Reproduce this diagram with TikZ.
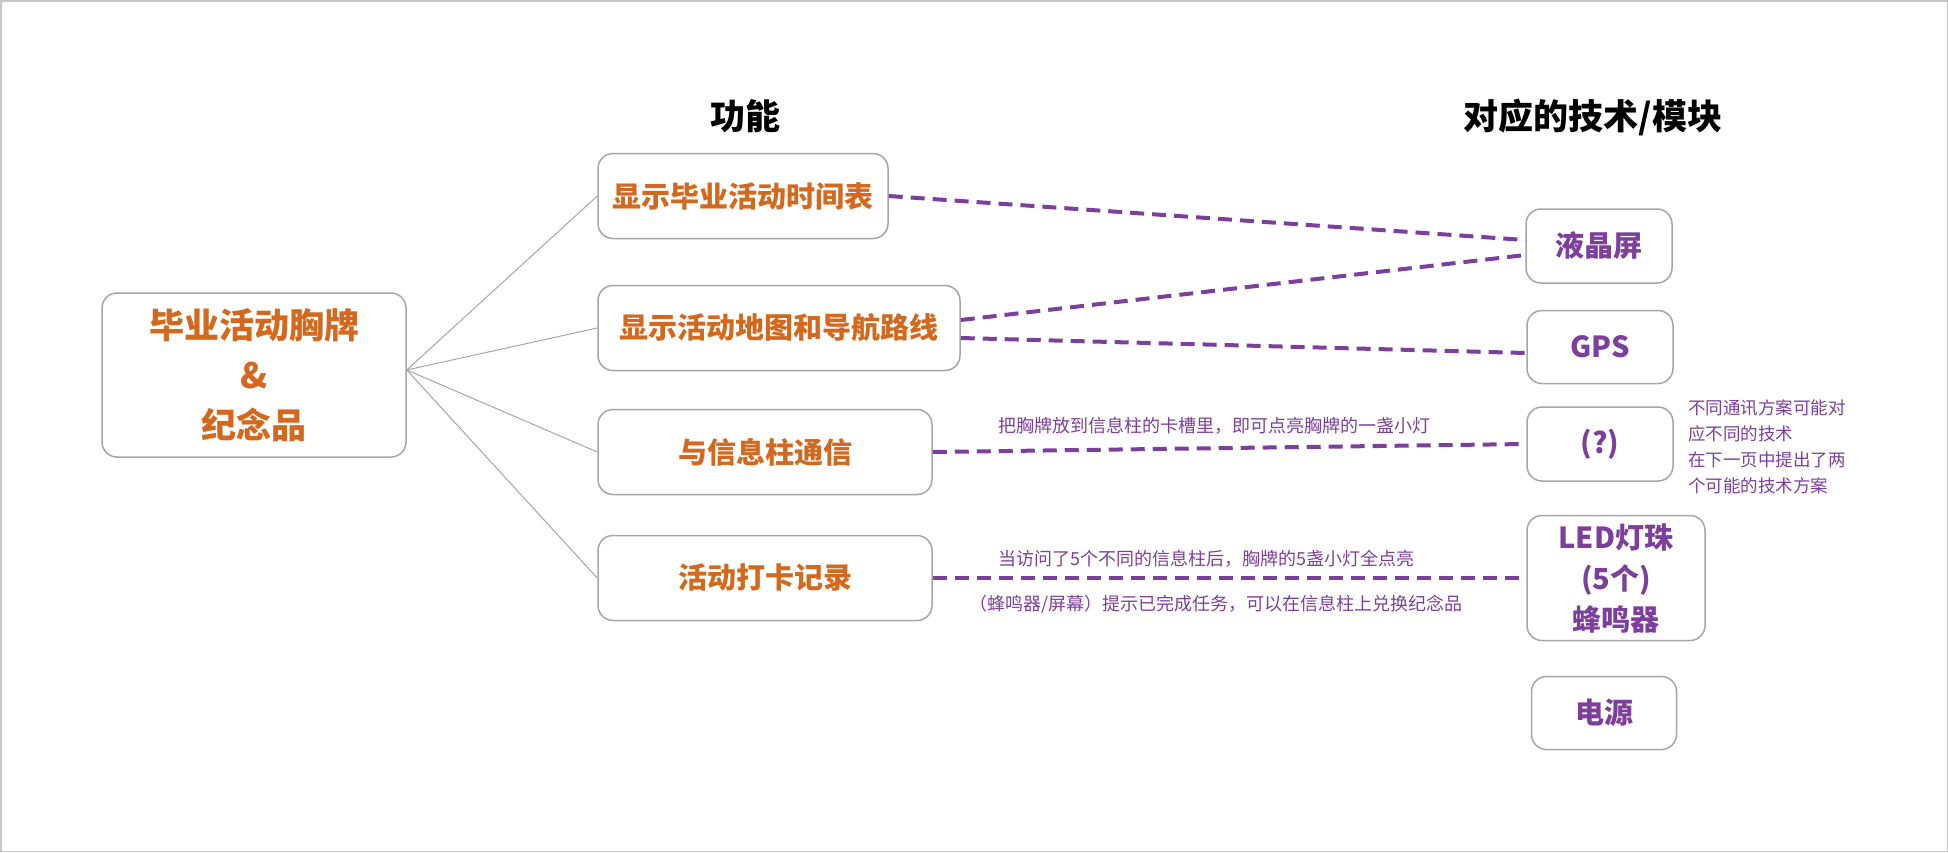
\documentclass[tikz,border=0pt]{standalone}
\usepackage{fontspec}
\usepackage{tikz}
\usetikzlibrary{positioning, calc}
\newfontfamily\cjk{Noto Sans CJK SC}
\definecolor{badgeorange}{HTML}{D2691E}
\definecolor{badgepurple}{HTML}{7D3F9C}
\definecolor{boxgray}{HTML}{A6A6A6}

\begin{document}
\begin{tikzpicture}[
  x=1pt, y=-1pt,
  every node/.style={font=\cjk},
  box/.style={draw=boxgray, line width=1.5pt, rounded corners=15pt, fill=white, align=center, inner sep=0pt},
  func/.style={box, text=badgeorange, font=\cjk\bfseries\fontsize{29}{35}\selectfont, minimum height=85pt},
  tech/.style={box, text=badgepurple, font=\cjk\bfseries\fontsize{29}{41}\selectfont, minimum width=146pt, minimum height=73pt},
  head/.style={font=\cjk\bfseries\fontsize{35}{40}\selectfont},
  branch/.style={draw=boxgray, line width=1pt},
  techlink/.style={draw=badgepurple, line width=4pt, dash pattern=on 14pt off 8pt},
  linknote/.style={text=badgepurple, font=\cjk\fontsize{18}{26}\selectfont, inner sep=0pt, align=left}
]
\useasboundingbox (0,0) rectangle (1948,852);
\draw[gray!45, line width=1.5pt] (0.75,0.75) rectangle (1947.25,851.25);

% column headers
\node[head] (funchead) at (745,116) {功能};
\node[head] (techhead) at (1593,117) {对应的技术/模块};

% badge
\node[box, text=badgeorange, font=\cjk\bfseries\fontsize{35}{50}\selectfont,
      minimum width=304pt, minimum height=164pt] (root) at (254,375) {毕业活动胸牌\\\&\\纪念品};

% functions
\node[func, minimum width=290pt] (f1) at (743,196) {显示毕业活动时间表};
\node[func, minimum width=362pt] (f2) at (779,328) {显示活动地图和导航路线};
\node[func, minimum width=334pt] (f3) at (765,452) {与信息柱通信};
\node[func, minimum width=334pt] (f4) at (765,578) {活动打卡记录};

% modules
\node[tech, minimum height=74pt] (lcd) at (1599,246) {液晶屏};
\node[tech] (gps) at (1600,347) {GPS};
\node[tech, minimum height=74pt] (query) at (1600,444) {(?)};
\node[tech, minimum width=178pt, minimum height=125pt] (led) at (1616,578) {LED灯珠\\(5个)\\蜂鸣器};
\node[tech, minimum width=145pt] (power) at (1604,713) {电源};

\node[linknote, font=\cjk\fontsize{17.5}{26}\selectfont, anchor=north west] (commnote) at (1688,399)
  {不同通讯方案可能对\\应不同的技术\\在下一页中提出了两\\个可能的技术方案};

% branches
\foreach \f in {f1,f2,f3,f4}
  \draw[branch] ([yshift=5pt]root.east) -- (\f.west);

% function -> module
\draw[techlink] (f1.east) -- ([yshift=6pt]lcd.west);
\draw[techlink] ([yshift=8pt]f2.east) -- ([yshift=-9pt]lcd.west);
\draw[techlink] ([yshift=-10pt]f2.east) -- ([yshift=-6pt]gps.west);
\draw[techlink] (f3.east) -- node[linknote, pos=0.474, above=12pt] (slotnote)
  {把胸牌放到信息柱的卡槽里，即可点亮胸牌的一盏小灯} (query.west);
\draw[techlink] (f4.east)
  -- node[linknote, pos=0.462, above=9pt] (visitnote) {当访问了5个不同的信息柱后，胸牌的5盏小灯全点亮}
     node[linknote, pos=0.477, below=15pt] (rewardnote) {（蜂鸣器/屏幕）提示已完成任务，可以在信息柱上兑换纪念品}
  (led.west);
\end{tikzpicture}
\end{document}
